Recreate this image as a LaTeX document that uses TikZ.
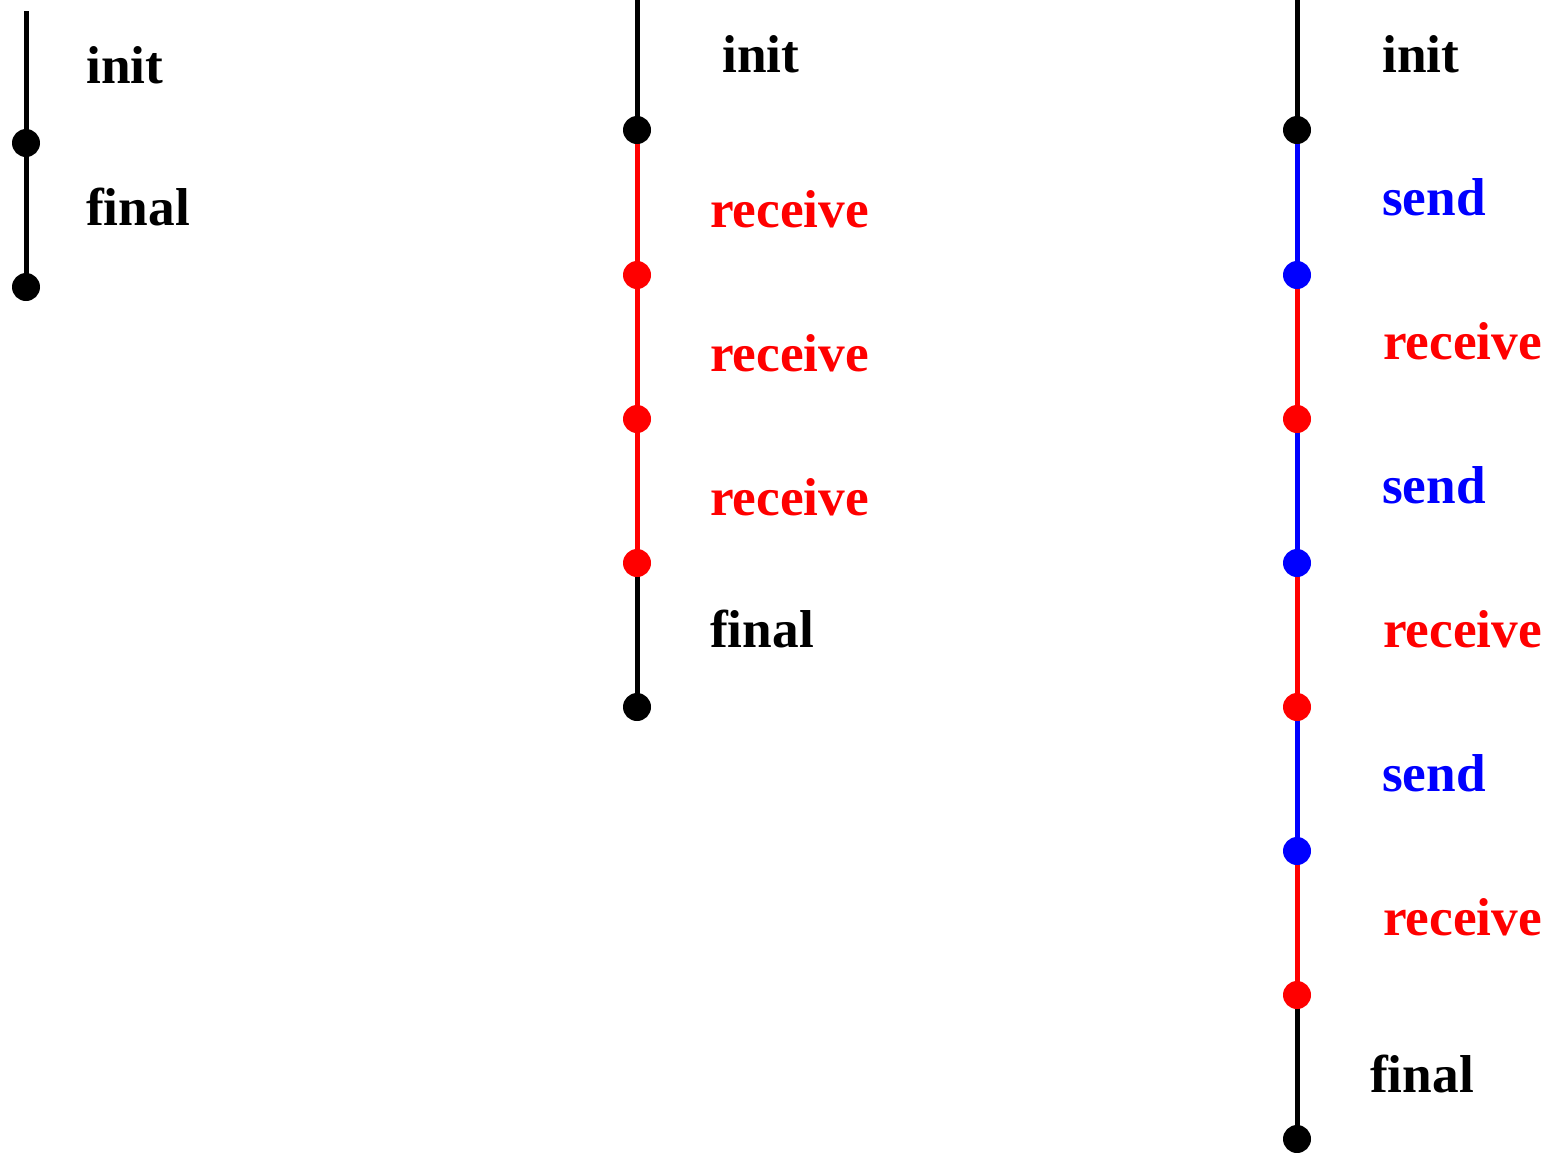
\documentclass[tikz,border=0pt]{standalone}
\usepackage{fontspec}
\setmainfont{Liberation Serif}
\definecolor{pred}{RGB}{255,0,0}
\definecolor{pblue}{RGB}{0,0,255}
\begin{document}
\begin{tikzpicture}[x=1pt,y=-1pt,
  dot/.style={circle,fill=#1,draw=none,minimum size=28pt,inner sep=0pt},
  seg/.style={draw=#1,line width=5pt},
  lbl/.style={anchor=base west,inner sep=0pt,text=#1,font=\fontsize{53.3}{60}\selectfont\bfseries}]
\useasboundingbox (0,0) rectangle (1551,1152);
% column 1
\coordinate (t1) at (26,11);
\coordinate (a1) at (26,143);
\coordinate (a2) at (26,287);
\draw[seg=black] (t1) -- (a1);
\draw[seg=black] (a1) -- (a2);
\node[dot=black] (d1) at (a1) {};
\node[dot=black] (d2) at (a2) {};
\node[lbl=black] (l1a) at (86,83) {init};
\node[lbl=black] (l1b) at (86,225) {final};
% column 2
\coordinate (t2) at (637,0);
\coordinate (b1) at (637,130);
\coordinate (b2) at (637,275);
\coordinate (b3) at (637,419);
\coordinate (b4) at (637,563);
\coordinate (b5) at (637,707);
\draw[seg=black] (t2) -- (b1);
\draw[seg=pred] (b1) -- (b2);
\draw[seg=pred] (b2) -- (b3);
\draw[seg=pred] (b3) -- (b4);
\draw[seg=black] (b4) -- (b5);
\foreach \n/\c in {b1/black,b2/pred,b3/pred,b4/pred,b5/black} \node[dot=\c] (d\n) at (\n) {};
\node[lbl=black] (l2a) at (722,72) {init};
\node[lbl=pred] (l2b) at (710,227) {receive};
\node[lbl=pred] (l2c) at (710,371) {receive};
\node[lbl=pred] (l2d) at (710,515) {receive};
\node[lbl=black] (l2e) at (710,647) {final};
% column 3
\coordinate (t3) at (1297,0);
\coordinate (c1) at (1297,130);
\coordinate (c2) at (1297,275);
\coordinate (c3) at (1297,419);
\coordinate (c4) at (1297,563);
\coordinate (c5) at (1297,707);
\coordinate (c6) at (1297,851);
\coordinate (c7) at (1297,995);
\coordinate (c8) at (1297,1139);
\draw[seg=black] (t3) -- (c1);
\draw[seg=pblue] (c1) -- (c2);
\draw[seg=pred] (c2) -- (c3);
\draw[seg=pblue] (c3) -- (c4);
\draw[seg=pred] (c4) -- (c5);
\draw[seg=pblue] (c5) -- (c6);
\draw[seg=pred] (c6) -- (c7);
\draw[seg=black] (c7) -- (c8);
\foreach \n/\c in {c1/black,c2/pblue,c3/pred,c4/pblue,c5/pred,c6/pblue,c7/pred,c8/black} \node[dot=\c] (d\n) at (\n) {};
\node[lbl=black] (l3a) at (1382,72) {init};
\node[lbl=pblue] (l3b) at (1382,215) {send};
\node[lbl=pred] (l3c) at (1383,359) {receive};
\node[lbl=pblue] (l3d) at (1382,503) {send};
\node[lbl=pred] (l3e) at (1383,647) {receive};
\node[lbl=pblue] (l3f) at (1382,791) {send};
\node[lbl=pred] (l3g) at (1383,935) {receive};
\node[lbl=black] (l3h) at (1370,1092) {final};
\end{tikzpicture}
\end{document}
